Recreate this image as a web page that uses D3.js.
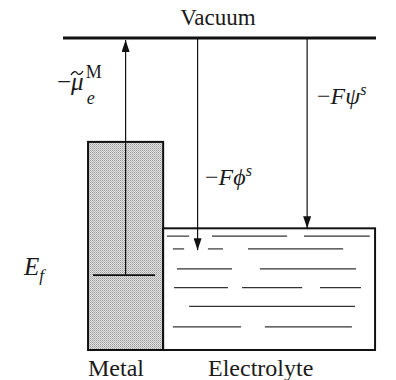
<!DOCTYPE html>
<html>
<head>
<meta charset="utf-8">
<script src="https://cdn.jsdelivr.net/npm/d3@7"></script>
<style>
  body { margin: 0; background: #fff; }
  text { font-family: "Liberation Serif", "DejaVu Serif", serif; fill: #1a1a1a; }
</style>
</head>
<body>
<div id="chart"></div>
<script>
// Energy levels, in diagram units (0 = vacuum level, 100 = bottom of the boxes)
var levels = { vacuum: 0, metalTop: 33.3, electrolyteTop: 61, fermi: 76, bottom: 100 };
// Horizontal positions, in diagram units
var metalX = [8, 32];
var electrolyteX = [32, 99.7];
var fermiX = [9.6, 29.4];
// Arrows: x position, start level, end level
var arrowX = [20, 43, 78];
var arrowFrom = [levels.fermi, levels.vacuum, levels.vacuum];
var arrowTo = [levels.vacuum, 68, levels.electrolyteTop];
// Electrolyte dashes: row level and [start, end] pairs
var dashRows = [63.5, 67.6, 74, 80, 86, 92.6];
var dashSegs = [
  [[33.2, 40.3], [47.6, 71.6], [77, 98]],
  [[35.1, 38.7], [46.3, 51.1], [59.1, 89.5]],
  [[36.4, 54], [62.9, 93.6]],
  [[35.5, 52.7], [57.2, 76.4], [82.1, 95.2]],
  [[40.3, 93.3]],
  [[35.1, 56.9], [64.5, 92.3]]
];

var width = 396, height = 380;
var svg = d3.select("#chart").append("svg").attr("width", width).attr("height", height);

var x = d3.scaleLinear().domain([0, 100]).range([63, 376]);
var y = d3.scaleLinear().domain([0, 100]).range([38, 350]);

var defs = svg.append("defs");
// stipple pattern for the metal
var pat = defs.append("pattern").attr("id", "stipple").attr("patternUnits", "userSpaceOnUse")
    .attr("width", 2).attr("height", 2);
pat.append("rect").attr("width", 2).attr("height", 2).attr("fill", "#e2e2e2");
pat.append("rect").attr("width", 1).attr("height", 1).attr("fill", "#9a9a9a");
pat.append("rect").attr("x", 1).attr("y", 1).attr("width", 1).attr("height", 1).attr("fill", "#b8b8b8");

defs.append("marker").attr("id", "head").attr("viewBox", "0 0 12 8")
    .attr("refX", 12).attr("refY", 4).attr("markerWidth", 12).attr("markerHeight", 8)
    .attr("markerUnits", "userSpaceOnUse").attr("orient", "auto")
  .append("path").attr("d", "M0,0 L12,4 L0,8 Z").attr("fill", "#111");

// metal box
svg.append("rect")
    .attr("x", x(metalX[0])).attr("y", y(levels.metalTop))
    .attr("width", x(metalX[1]) - x(metalX[0])).attr("height", y(levels.bottom) - y(levels.metalTop))
    .attr("fill", "url(#stipple)").attr("stroke", "#111").attr("stroke-width", 2);

// electrolyte box
svg.append("rect")
    .attr("x", x(electrolyteX[0])).attr("y", y(levels.electrolyteTop))
    .attr("width", x(electrolyteX[1]) - x(electrolyteX[0])).attr("height", y(levels.bottom) - y(levels.electrolyteTop))
    .attr("fill", "#fff").attr("stroke", "#111").attr("stroke-width", 2);

// dashes in the electrolyte
dashRows.forEach(function (lv, i) {
    svg.selectAll(".dash" + i).data(dashSegs[i]).enter().append("line")
        .attr("x1", function (d) { return x(d[0]); }).attr("x2", function (d) { return x(d[1]); })
        .attr("y1", y(lv)).attr("y2", y(lv))
        .attr("stroke", "#333").attr("stroke-width", 1.2);
});

// vacuum level
svg.append("line").attr("x1", x(0)).attr("x2", x(100))
    .attr("y1", y(levels.vacuum)).attr("y2", y(levels.vacuum))
    .attr("stroke", "#111").attr("stroke-width", 3);

// fermi level in metal
svg.append("line").attr("x1", x(fermiX[0])).attr("x2", x(fermiX[1]))
    .attr("y1", y(levels.fermi)).attr("y2", y(levels.fermi))
    .attr("stroke", "#111").attr("stroke-width", 1.6);

// arrows
svg.selectAll(".arrow").data(arrowX).enter().append("line")
    .attr("class", "arrow")
    .attr("x1", function (d) { return x(d); }).attr("x2", function (d) { return x(d); })
    .attr("y1", function (d, i) { return y(arrowFrom[i]); })
    .attr("y2", function (d, i) { return y(arrowTo[i]) + (i == 0 ? 2 : 0); })
    .attr("stroke", "#111").attr("stroke-width", 1.2)
    .attr("marker-end", "url(#head)");

// labels
svg.append("text").attr("x", 218).attr("y", 25).attr("text-anchor", "middle")
    .attr("font-size", 23).text("Vacuum");
svg.append("text").attr("x", x(metalX[0])).attr("y", 376).attr("font-size", 24).text("Metal");
svg.append("text").attr("x", 208).attr("y", 376).attr("font-size", 24).text("Electrolyte");

var mu = svg.append("text").attr("x", 57).attr("y", 90).attr("font-size", 25);
mu.append("tspan").text("−");
mu.append("tspan").attr("font-style", "italic").text("μ");
mu.append("tspan").attr("font-size", 18).attr("dx", 2).attr("dy", -12).text("M");
mu.append("tspan").attr("font-size", 18).attr("font-style", "italic").attr("dx", -15).attr("dy", 26).text("e");
// tilde above mu, drawn as a small wave
svg.append("path")
    .attr("d", "M71,75 C73,71 76,71 77,73 C78,75 81,75 83,71")
    .attr("fill", "none").attr("stroke", "#1a1a1a").attr("stroke-width", 1.3);

var phi = svg.append("text").attr("x", 205).attr("y", 185).attr("font-size", 24);
phi.append("tspan").text("−");
phi.append("tspan").attr("font-style", "italic").text("Fϕ");
phi.append("tspan").attr("font-style", "italic").attr("font-size", 16).attr("dy", -9).text("s");

var psi = svg.append("text").attr("x", 317).attr("y", 104).attr("font-size", 24);
psi.append("tspan").text("−");
psi.append("tspan").attr("font-style", "italic").text("Fψ");
psi.append("tspan").attr("font-style", "italic").attr("font-size", 16).attr("dy", -9).text("s");

var ef = svg.append("text").attr("x", 24).attr("y", 275).attr("font-size", 25);
ef.append("tspan").attr("font-style", "italic").text("E");
ef.append("tspan").attr("font-style", "italic").attr("font-size", 17).attr("dy", 6).text("f");
</script>
</body>
</html>
